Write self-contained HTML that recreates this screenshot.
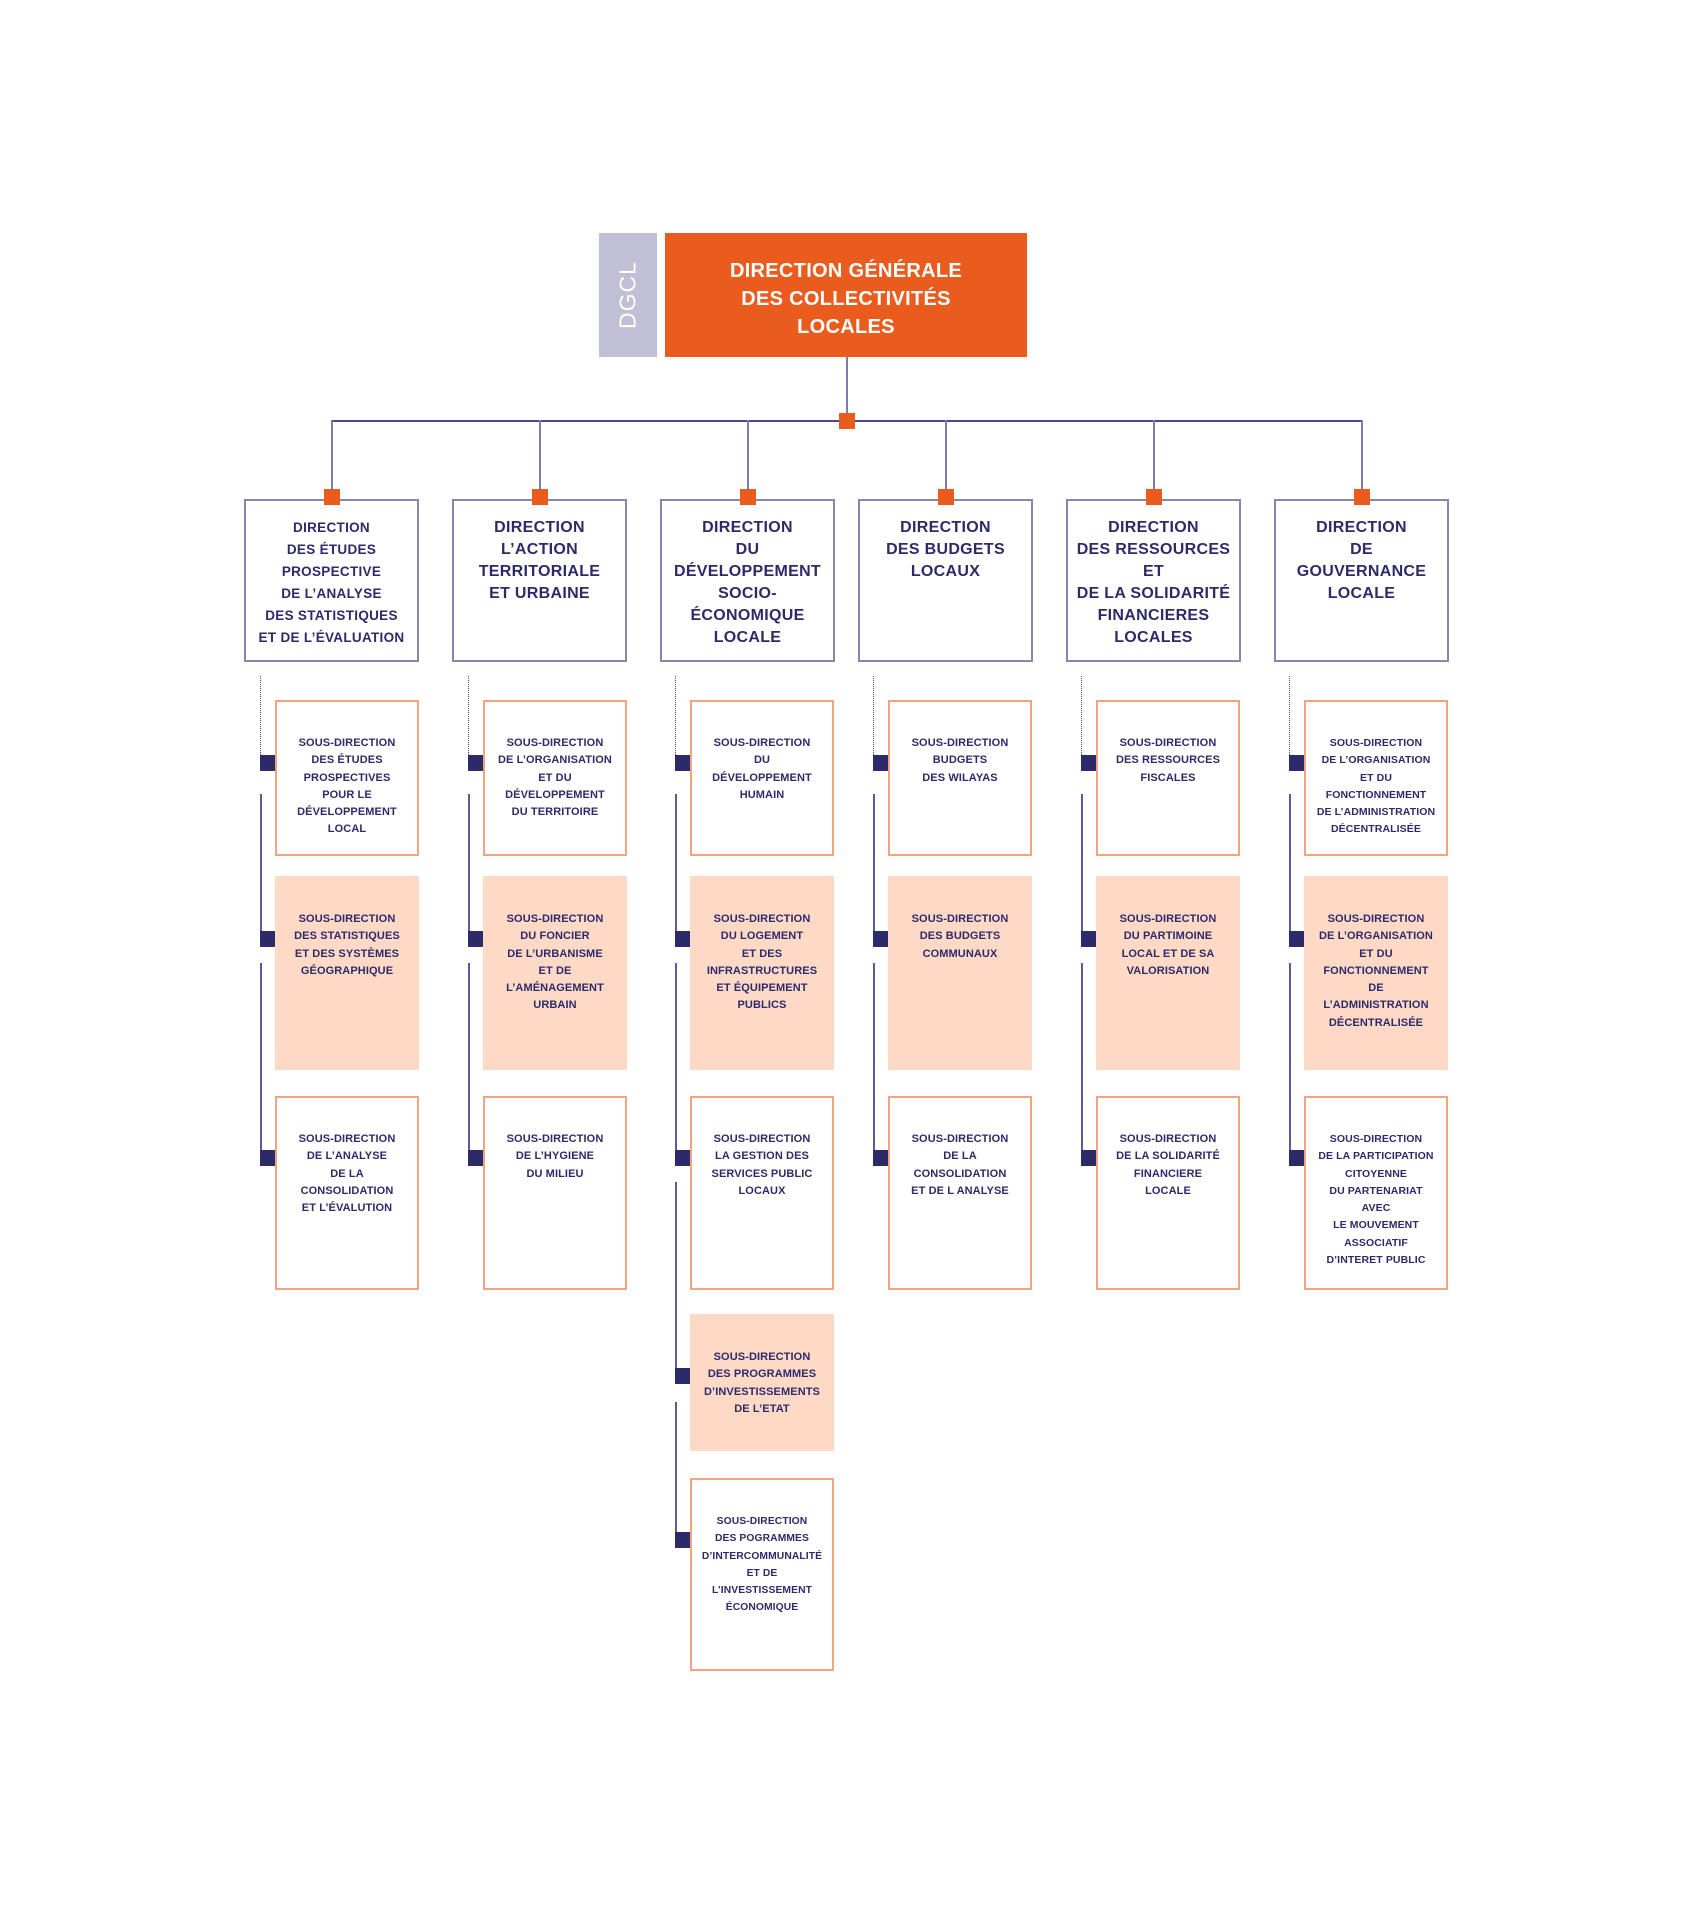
<!DOCTYPE html>
<html><head><meta charset="utf-8">
<style>
*{margin:0;padding:0;box-sizing:border-box}
body{width:1692px;height:1920px;background:#fff;position:relative;overflow:hidden;font-family:"Liberation Sans",Arial,sans-serif;font-weight:bold;color:#2d2a6a}
.a{position:absolute}
.dg{left:599px;top:233px;width:58px;height:124px;background:#c0bfd6}
.dg span{position:absolute;left:50%;top:50%;transform:translate(-50%,-50%) rotate(-90deg);color:#fff;font-weight:normal;font-size:23px;letter-spacing:1px}
.top{left:665px;top:233px;width:362px;height:124px;background:#ea5b1e;color:#fff;font-size:20px;line-height:28px;text-align:center;padding-top:24px;letter-spacing:.3px}
.vl{background:#7f7dab;width:2px}
.hl{background:#4a4790;height:2px}
.osq{background:#ea5b1e;width:16px;height:16px}
.dir{top:499px;width:175px;height:163px;border:2px solid #8886b0;text-align:center;font-size:16px;line-height:22px;padding-top:16px;letter-spacing:.3px;white-space:nowrap}
.dir.s{font-size:13.5px}
.sub{width:144px;border:2px solid #f4a47c;text-align:center;font-size:11px;line-height:17.3px;padding-top:33px;white-space:nowrap;letter-spacing:.1px}
.sub.p{background:#fdd9c6;border-color:#fdd9c6}
.nsq{background:#2d2a6a;width:15px;height:16px}
.dot{width:0;border-left:1.5px dotted #4a4790}
.sl{width:2px;background:#5d5a96}
</style></head><body>
<div class="a dg"><span>DGCL</span></div>
<div class="a top">DIRECTION GÉNÉRALE<br>DES COLLECTIVITÉS<br>LOCALES</div>
<div class="a vl" style="left:846px;top:357px;height:64px"></div>
<div class="a hl" style="left:331px;top:420px;width:1031px"></div>
<div class="a osq" style="left:839px;top:413px"></div>

<!-- vertical connectors to directions -->
<div class="a vl" style="left:331px;top:420px;height:80px"></div>
<div class="a vl" style="left:539px;top:420px;height:80px"></div>
<div class="a vl" style="left:747px;top:420px;height:80px"></div>
<div class="a vl" style="left:945px;top:420px;height:80px"></div>
<div class="a vl" style="left:1153px;top:420px;height:80px"></div>
<div class="a vl" style="left:1361px;top:420px;height:80px"></div>

<div class="a dir s" style="left:244px">DIRECTION<br>DES ÉTUDES<br>PROSPECTIVE<br>DE L’ANALYSE<br>DES STATISTIQUES<br>ET DE L’ÉVALUATION</div>
<div class="a dir" style="left:452px">DIRECTION<br>L’ACTION<br>TERRITORIALE<br>ET URBAINE</div>
<div class="a dir" style="left:660px">DIRECTION<br>DU<br>DÉVELOPPEMENT<br>SOCIO-<br>ÉCONOMIQUE<br>LOCALE</div>
<div class="a dir" style="left:858px">DIRECTION<br>DES BUDGETS<br>LOCAUX</div>
<div class="a dir" style="left:1066px">DIRECTION<br>DES RESSOURCES<br>ET<br>DE LA SOLIDARITÉ<br>FINANCIERES<br>LOCALES</div>
<div class="a dir" style="left:1274px">DIRECTION<br>DE<br>GOUVERNANCE<br>LOCALE</div>

<div class="a osq" style="left:324px;top:489px"></div>
<div class="a osq" style="left:532px;top:489px"></div>
<div class="a osq" style="left:740px;top:489px"></div>
<div class="a osq" style="left:938px;top:489px"></div>
<div class="a osq" style="left:1146px;top:489px"></div>
<div class="a osq" style="left:1354px;top:489px"></div>

<!-- column 1 -->
<div class="a dot" style="left:260px;top:676px;height:79px"></div>
<div class="a sl" style="left:260px;top:794px;height:140px"></div>
<div class="a sl" style="left:260px;top:963px;height:190px"></div>
<div class="a nsq" style="left:260px;top:755px"></div>
<div class="a nsq" style="left:260px;top:931px"></div>
<div class="a nsq" style="left:260px;top:1150px"></div>
<div class="a sub" style="left:275px;top:700px;height:156px">SOUS-DIRECTION<br>DES ÉTUDES<br>PROSPECTIVES<br>POUR LE<br>DÉVELOPPEMENT<br>LOCAL</div>
<div class="a sub p" style="left:275px;top:876px;height:194px">SOUS-DIRECTION<br>DES STATISTIQUES<br>ET DES SYSTÈMES<br>GÉOGRAPHIQUE</div>
<div class="a sub" style="left:275px;top:1096px;height:194px">SOUS-DIRECTION<br>DE L’ANALYSE<br>DE LA<br>CONSOLIDATION<br>ET L’ÉVALUTION</div>

<!-- column 2 -->
<div class="a dot" style="left:468px;top:676px;height:79px"></div>
<div class="a sl" style="left:468px;top:794px;height:140px"></div>
<div class="a sl" style="left:468px;top:963px;height:190px"></div>
<div class="a nsq" style="left:468px;top:755px"></div>
<div class="a nsq" style="left:468px;top:931px"></div>
<div class="a nsq" style="left:468px;top:1150px"></div>
<div class="a sub" style="left:483px;top:700px;height:156px">SOUS-DIRECTION<br>DE L’ORGANISATION<br>ET DU<br>DÉVELOPPEMENT<br>DU TERRITOIRE</div>
<div class="a sub p" style="left:483px;top:876px;height:194px">SOUS-DIRECTION<br>DU FONCIER<br>DE L’URBANISME<br>ET DE<br>L’AMÉNAGEMENT<br>URBAIN</div>
<div class="a sub" style="left:483px;top:1096px;height:194px">SOUS-DIRECTION<br>DE L’HYGIENE<br>DU MILIEU</div>

<!-- column 3 -->
<div class="a dot" style="left:675px;top:676px;height:79px"></div>
<div class="a sl" style="left:675px;top:794px;height:140px"></div>
<div class="a sl" style="left:675px;top:963px;height:190px"></div>
<div class="a sl" style="left:675px;top:1182px;height:190px"></div>
<div class="a sl" style="left:675px;top:1402px;height:140px"></div>
<div class="a nsq" style="left:675px;top:755px"></div>
<div class="a nsq" style="left:675px;top:931px"></div>
<div class="a nsq" style="left:675px;top:1150px"></div>
<div class="a nsq" style="left:675px;top:1368px"></div>
<div class="a nsq" style="left:675px;top:1532px"></div>
<div class="a sub" style="left:690px;top:700px;height:156px">SOUS-DIRECTION<br>DU<br>DÉVELOPPEMENT<br>HUMAIN</div>
<div class="a sub p" style="left:690px;top:876px;height:194px">SOUS-DIRECTION<br>DU LOGEMENT<br>ET DES<br>INFRASTRUCTURES<br>ET ÉQUIPEMENT<br>PUBLICS</div>
<div class="a sub" style="left:690px;top:1096px;height:194px">SOUS-DIRECTION<br>LA GESTION DES<br>SERVICES PUBLIC<br>LOCAUX</div>
<div class="a sub p" style="left:690px;top:1314px;height:137px">SOUS-DIRECTION<br>DES PROGRAMMES<br>D’INVESTISSEMENTS<br>DE L’ETAT</div>
<div class="a sub" style="left:690px;top:1478px;height:193px;font-size:10.3px">SOUS-DIRECTION<br>DES POGRAMMES<br>D’INTERCOMMUNALITÉ<br>ET DE<br>L’INVESTISSEMENT<br>ÉCONOMIQUE</div>

<!-- column 4 -->
<div class="a dot" style="left:873px;top:676px;height:79px"></div>
<div class="a sl" style="left:873px;top:794px;height:140px"></div>
<div class="a sl" style="left:873px;top:963px;height:190px"></div>
<div class="a nsq" style="left:873px;top:755px"></div>
<div class="a nsq" style="left:873px;top:931px"></div>
<div class="a nsq" style="left:873px;top:1150px"></div>
<div class="a sub" style="left:888px;top:700px;height:156px">SOUS-DIRECTION<br>BUDGETS<br>DES WILAYAS</div>
<div class="a sub p" style="left:888px;top:876px;height:194px">SOUS-DIRECTION<br>DES BUDGETS<br>COMMUNAUX</div>
<div class="a sub" style="left:888px;top:1096px;height:194px">SOUS-DIRECTION<br>DE LA<br>CONSOLIDATION<br>ET DE L ANALYSE</div>

<!-- column 5 -->
<div class="a dot" style="left:1081px;top:676px;height:79px"></div>
<div class="a sl" style="left:1081px;top:794px;height:140px"></div>
<div class="a sl" style="left:1081px;top:963px;height:190px"></div>
<div class="a nsq" style="left:1081px;top:755px"></div>
<div class="a nsq" style="left:1081px;top:931px"></div>
<div class="a nsq" style="left:1081px;top:1150px"></div>
<div class="a sub" style="left:1096px;top:700px;height:156px">SOUS-DIRECTION<br>DES RESSOURCES<br>FISCALES</div>
<div class="a sub p" style="left:1096px;top:876px;height:194px">SOUS-DIRECTION<br>DU PARTIMOINE<br>LOCAL ET DE SA<br>VALORISATION</div>
<div class="a sub" style="left:1096px;top:1096px;height:194px">SOUS-DIRECTION<br>DE LA SOLIDARITÉ<br>FINANCIERE<br>LOCALE</div>

<!-- column 6 -->
<div class="a dot" style="left:1289px;top:676px;height:79px"></div>
<div class="a sl" style="left:1289px;top:794px;height:140px"></div>
<div class="a sl" style="left:1289px;top:963px;height:190px"></div>
<div class="a nsq" style="left:1289px;top:755px"></div>
<div class="a nsq" style="left:1289px;top:931px"></div>
<div class="a nsq" style="left:1289px;top:1150px"></div>
<div class="a sub" style="left:1304px;top:700px;height:156px;font-size:10.5px">SOUS-DIRECTION<br>DE L’ORGANISATION<br>ET DU<br>FONCTIONNEMENT<br>DE L’ADMINISTRATION<br>DÉCENTRALISÉE</div>
<div class="a sub p" style="left:1304px;top:876px;height:194px">SOUS-DIRECTION<br>DE L’ORGANISATION<br>ET DU<br>FONCTIONNEMENT<br>DE<br>L’ADMINISTRATION<br>DÉCENTRALISÉE</div>
<div class="a sub" style="left:1304px;top:1096px;height:194px;font-size:10.5px">SOUS-DIRECTION<br>DE LA PARTICIPATION<br>CITOYENNE<br>DU PARTENARIAT<br>AVEC<br>LE MOUVEMENT<br>ASSOCIATIF<br>D’INTERET PUBLIC</div>
</body></html>
